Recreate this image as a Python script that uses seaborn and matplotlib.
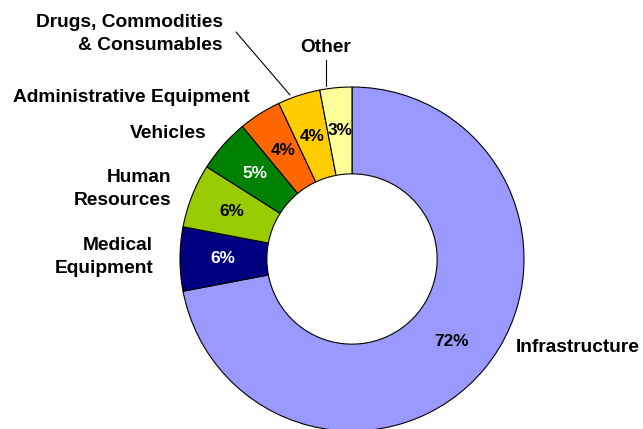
import matplotlib
matplotlib.use("Agg")
import matplotlib.pyplot as plt
import seaborn as sns

sns.set_style("white")
plt.rcParams["font.family"] = ["Liberation Sans", "DejaVu Sans"]
plt.rcParams["text.color"] = "black"

# Share of spending by category
categories = ["Infrastructure", "Medical\nEquipment", "Human\nResources", "Vehicles",
              "Administrative Equipment", "Drugs, Commodities\n& Consumables", "Other"]
shares = [72, 6, 6, 5, 4, 4, 3]
colors = ["#9999FF", "#000080", "#99CC00", "#008000", "#FF6600", "#FFCC00", "#FFFF99"]
pct_text_colors = ["black", "white", "black", "white", "black", "black", "black"]

W, H = 643, 429
fig = plt.figure(figsize=(W / 100, H / 100), dpi=100)
ax = fig.add_axes([0, 0, 1, 1])

cx, cy, R = 352, H - 259, 172
wedges, _, autotexts = ax.pie(
    shares, colors=colors, startangle=90, counterclock=False,
    center=(cx, cy), radius=R, autopct="%d%%", pctdistance=0.75,
    wedgeprops=dict(width=R * 0.505, edgecolor="black", linewidth=0.8),
    textprops=dict(fontsize=12.4, fontweight="bold"),
)
for t, c in zip(autotexts, pct_text_colors):
    t.set_color(c)

# Outer category labels (x, y in pixels from the top-left, alignment)
label_pos = [
    (516, 348, "left"),
    (153, 257, "right"),
    (171, 189, "right"),
    (207, 133, "right"),
    (250, 98, "right"),
    (223, 34, "right"),
    (326, 47, "center"),
]
for name, (x, y, ha) in zip(categories, label_pos):
    ax.text(x, H - y, name, ha=ha, va="center", fontsize=13.8,
            fontweight="bold", linespacing=1.4, color="black")

# Leader lines for the two smallest outer labels
ax.plot([236, 290], [H - 32, H - 95], color="black", lw=0.8)
ax.plot([326, 326], [H - 60, H - 86], color="black", lw=0.8)

ax.set_xlim(0, W)
ax.set_ylim(0, H)
ax.set_aspect("equal")
ax.axis("off")
fig.savefig("out.png", dpi=100)
